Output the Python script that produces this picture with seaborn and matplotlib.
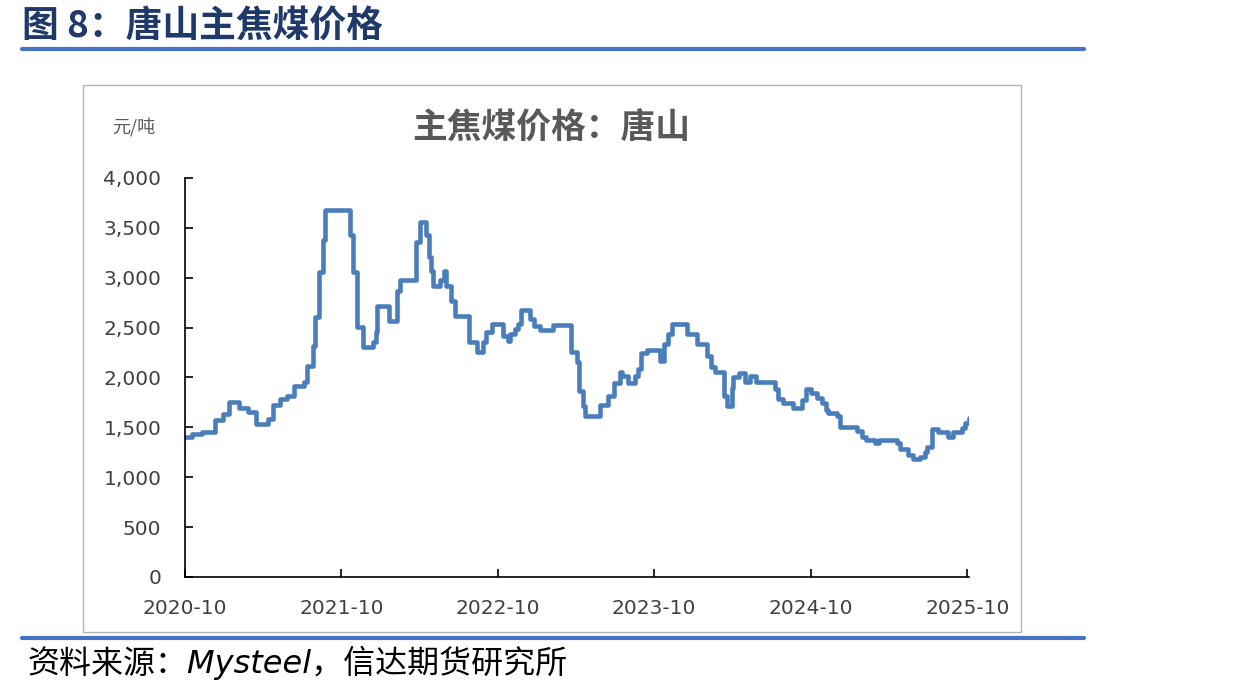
import matplotlib
matplotlib.use('Agg')
import matplotlib.pyplot as plt
from matplotlib.lines import Line2D
from matplotlib.patches import Rectangle
from matplotlib.ticker import FuncFormatter, MultipleLocator
import pandas as pd
import seaborn as sns

# 唐山主焦煤价格 (元/吨), dates where the price level changes
change_dates = [
    '2020-10-01', '2020-10-17', '2020-11-10', '2020-12-10', '2020-12-29',
    '2021-01-12', '2021-02-04', '2021-02-25', '2021-03-16', '2021-04-13',
    '2021-04-24', '2021-05-11', '2021-05-27', '2021-06-12', '2021-07-06',
    '2021-07-13', '2021-07-27', '2021-07-31', '2021-08-10', '2021-08-19',
    '2021-08-24', '2021-10-21', '2021-10-28', '2021-11-06', '2021-11-20',
    '2021-12-14', '2021-12-21', '2021-12-23', '2022-01-20', '2022-02-08',
    '2022-02-15', '2022-03-24', '2022-04-02', '2022-04-16', '2022-04-23',
    '2022-04-28', '2022-05-03', '2022-05-19', '2022-05-28', '2022-06-02',
    '2022-06-14', '2022-06-23', '2022-07-26', '2022-08-13', '2022-08-27',
    '2022-09-03', '2022-09-17', '2022-10-13', '2022-10-25', '2022-10-30',
    '2022-11-10', '2022-11-17', '2022-11-24', '2022-12-15', '2022-12-24',
    '2023-01-07', '2023-02-06', '2023-03-22', '2023-04-03', '2023-04-08',
    '2023-04-17', '2023-04-22', '2023-05-27', '2023-06-15', '2023-06-29',
    '2023-07-13', '2023-07-17', '2023-07-31', '2023-08-17', '2023-08-24',
    '2023-08-31', '2023-09-14', '2023-10-14', '2023-10-24', '2023-11-02',
    '2023-11-11', '2023-12-16', '2024-01-08', '2024-02-01', '2024-02-10',
    '2024-02-19', '2024-03-11', '2024-03-20', '2024-03-30', '2024-04-03',
    '2024-04-15', '2024-05-01', '2024-05-11', '2024-05-25', '2024-07-08',
    '2024-07-17', '2024-07-27', '2024-08-21', '2024-09-09', '2024-09-20',
    '2024-10-02', '2024-10-14', '2024-10-26', '2024-11-04', '2024-11-09',
    '2024-11-30', '2024-12-07', '2025-01-16', '2025-01-28', '2025-02-06',
    '2025-02-27', '2025-03-08', '2025-04-20', '2025-04-27', '2025-05-16',
    '2025-05-28', '2025-06-13', '2025-06-25', '2025-06-29', '2025-07-11',
    '2025-07-25', '2025-08-17', '2025-08-29', '2025-09-19', '2025-09-26',
    '2025-10-05',
]
prices = [
    1400, 1430, 1455, 1570, 1630,
    1750, 1690, 1655, 1530, 1580,
    1720, 1780, 1810, 1910, 1955,
    2120, 2320, 2610, 3060, 3380,
    3680, 3430, 3060, 2510, 2310,
    2360, 2460, 2720, 2570, 2870,
    2980, 3360, 3560, 3430, 3210,
    3070, 2920, 2980, 3070, 2920,
    2770, 2620, 2360, 2260, 2360,
    2460, 2540, 2420, 2370, 2440,
    2490, 2540, 2680, 2590, 2520,
    2480, 2530, 2260, 2160, 1860,
    1710, 1610, 1720, 1810, 1940,
    2060, 2010, 1940, 2010, 2090,
    2250, 2280, 2170, 2340, 2440,
    2540, 2440, 2340, 2220, 2110,
    2060, 1810, 1710, 1890, 2000,
    2040, 1950, 2010, 1950, 1880,
    1780, 1740, 1690, 1770, 1880,
    1840, 1790, 1740, 1670, 1640,
    1610, 1500, 1460, 1400, 1370,
    1340, 1370, 1340, 1280, 1220,
    1180, 1200, 1250, 1300, 1480,
    1450, 1400, 1450, 1490, 1540,
    1590,
]
tick_dates = ['2020-10-01', '2021-10-01', '2022-10-01', '2023-10-01', '2024-10-01', '2025-10-01']
tick_labels = ['2020-10', '2021-10', '2022-10', '2023-10', '2024-10', '2025-10']

sns.set_theme(style='white')
plt.rcParams['font.family'] = ['DejaVu Sans', 'Noto Sans CJK SC']
CJK = ['Noto Sans CJK SC', 'DejaVu Sans']

df = pd.DataFrame({'date': pd.to_datetime(change_dates), 'price': prices})

fig = plt.figure(figsize=(12.37, 6.95), dpi=100)
ax = fig.add_axes([0.1496, 0.1698, 0.6338, 0.5741])

sns.lineplot(data=df, x='date', y='price', ax=ax, color='#4a7ebb',
             linewidth=3.3, drawstyle='steps-post')

ax.set_xlim(df['date'].iloc[0], df['date'].iloc[-1])
ax.set_ylim(0, 4000)
ax.yaxis.set_major_locator(MultipleLocator(500))
ax.yaxis.set_major_formatter(FuncFormatter(lambda v, p: '{:,.0f}'.format(v)))
ax.set_xticks(pd.to_datetime(tick_dates))
ax.set_xticklabels(tick_labels)
ax.set_xlabel('')
ax.set_ylabel('')
for s in ('top', 'right'):
    ax.spines[s].set_visible(False)
for s in ('left', 'bottom'):
    ax.spines[s].set_color('black')
    ax.spines[s].set_linewidth(1.2)
ax.tick_params(axis='both', which='major', direction='in', length=6, width=1.2,
               color='black', labelsize=14.5, labelcolor='#404040',
               left=True, bottom=True)
ax.tick_params(axis='x', pad=16)
ax.tick_params(axis='y', pad=17)

# chart frame and title
fig.add_artist(Rectangle((0.0671, 0.0906), 0.7583, 0.787, transform=fig.transFigure,
                         fill=False, edgecolor='#b3b3b3', linewidth=1))
fig.text(0.446, 0.816, '主焦煤价格：唐山', family=CJK, fontsize=25, fontweight='bold',
         color='#595959', ha='center', va='center')
fig.text(0.108, 0.817, '元/吨', family=CJK, fontsize=13, color='#595959',
         ha='center', va='center')

# report header and footer
fig.text(0.018, 0.963, '图 8：唐山主焦煤价格', family=CJK, fontsize=26.5, fontweight='bold',
         color='#1f3a68', ha='left', va='center')
fig.add_artist(Line2D([0.018, 0.876], [0.929, 0.929], transform=fig.transFigure,
                      color='#4472c4', linewidth=3))
fig.add_artist(Line2D([0.018, 0.876], [0.082, 0.082], transform=fig.transFigure,
                      color='#4472c4', linewidth=3))
fig.text(0.022, 0.046, '资料来源：Mysteel，信达期货研究所', family=['DejaVu Sans', 'Noto Sans CJK SC'],
         fontsize=23, style='italic', color='black', ha='left', va='center')

fig.savefig('out.png', dpi=100)
